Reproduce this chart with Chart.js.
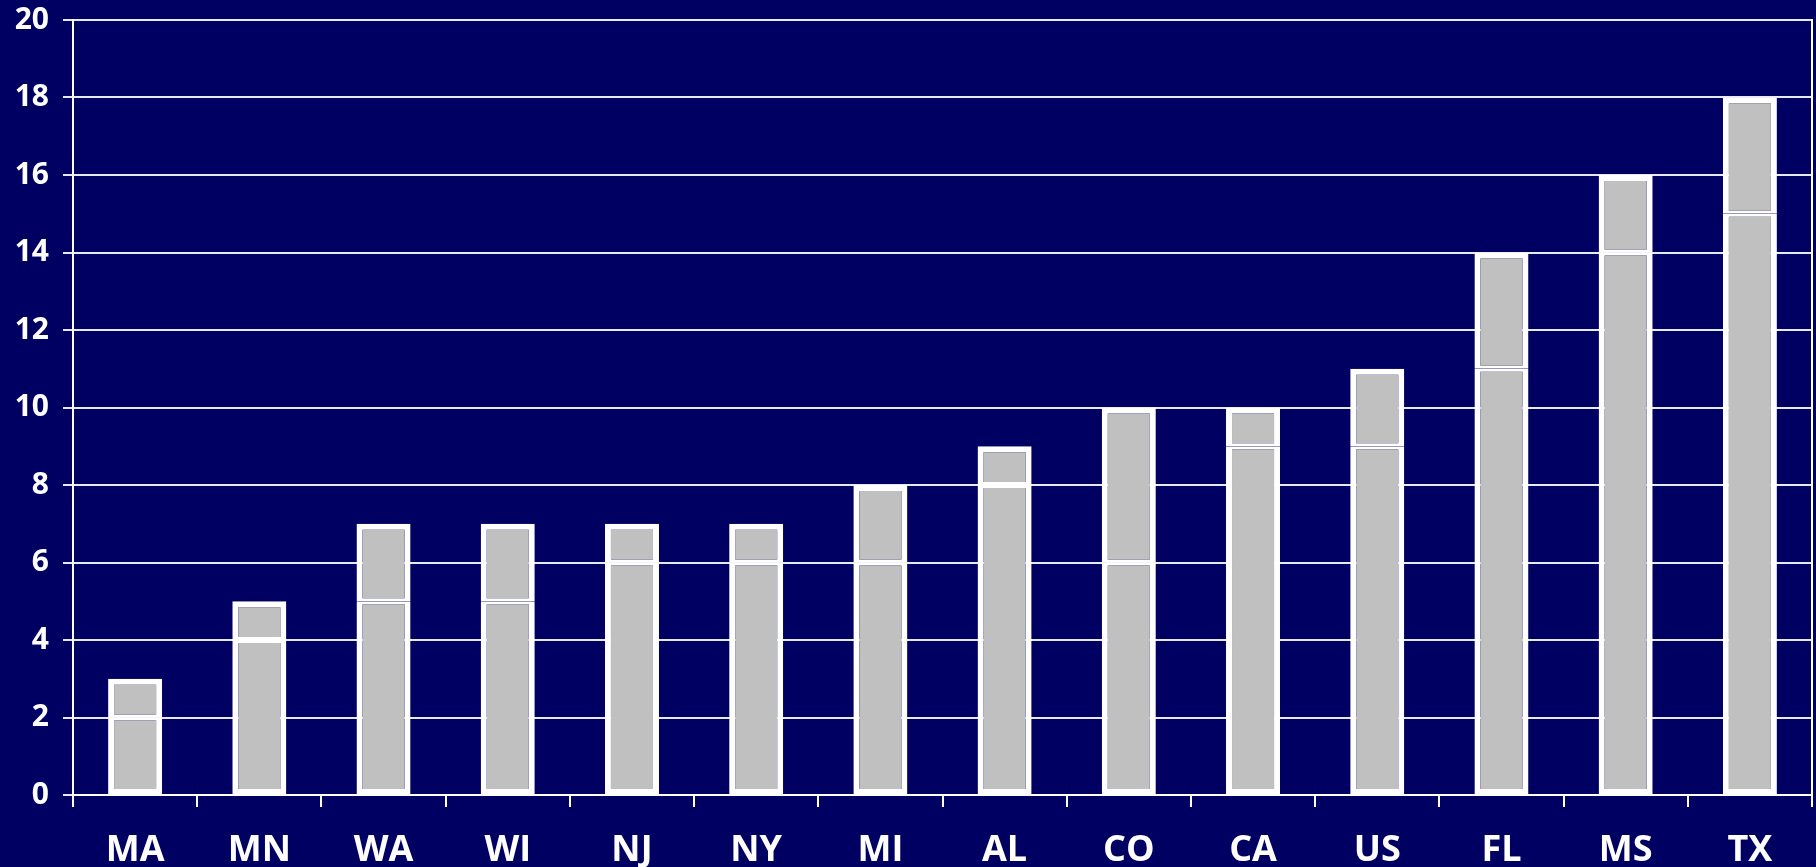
<!DOCTYPE html>
<html>
<head>
<meta charset="utf-8">
<script src="https://cdn.jsdelivr.net/npm/chart.js@4"></script>
<style>
  html, body { margin: 0; padding: 0; background: #000063; }
  #wrap { width: 1816px; height: 867px; }
</style>
</head>
<body>
<div id="wrap"><canvas id="c" width="1816" height="867"></canvas></div>
<script>
const categories = ["MA","MN","WA","WI","NJ","NY","MI","AL","CO","CA","US","FL","MS","TX"];
const lowerValues = [2,4,5,5,6,6,6,8,6,9,9,11,14,15];
const totalValues = [3,5,7,7,7,7,8,9,10,10,11,14,16,18];
const upperValues = totalValues.map((t, i) => t - lowerValues[i]);
const yTicks = [0,2,4,6,8,10,12,14,16,18,20];

const BG = '#000063';
const FONT = '"Open Sans", "DejaVu Sans", sans-serif';

const bgPlugin = {
  id: 'bg',
  beforeDraw(chart) {
    const ctx = chart.ctx;
    ctx.save();
    ctx.fillStyle = BG;
    ctx.fillRect(0, 0, chart.width, chart.height);
    ctx.restore();
  }
};

new Chart(document.getElementById('c'), {
  type: 'bar',
  data: {
    labels: categories,
    datasets: [
      {
        data: lowerValues,
        backgroundColor: '#C0C0C0',
        borderColor: '#FFFFFF',
        borderWidth: { left: 6, right: 6, bottom: 5, top: 3 },
        borderSkipped: false,
        barPercentage: 0.435,
        categoryPercentage: 1
      },
      {
        data: upperValues,
        backgroundColor: '#C0C0C0',
        borderColor: '#FFFFFF',
        borderWidth: { left: 6, right: 6, bottom: 3, top: 6 },
        borderSkipped: false,
        barPercentage: 0.435,
        categoryPercentage: 1
      }
    ]
  },
  options: {
    responsive: false,
    animation: false,
    maintainAspectRatio: false,
    layout: { padding: { top: 20, right: 0, left: 0, bottom: 0 } },
    plugins: { legend: { display: false }, tooltip: { enabled: false } },
    scales: {
      x: {
        stacked: true,
        offset: true,
        grid: {
          offset: true,
          drawOnChartArea: false,
          drawTicks: true,
          tickLength: 12,
          color: '#FFFFFF',
          lineWidth: 2
        },
        border: { display: true, color: '#FFFFFF', width: 2 },
        ticks: {
          color: '#FFFFFF',
          font: { family: FONT, size: 36, weight: 'bold' },
          padding: 22,
          maxRotation: 0,
          autoSkip: false
        },
        afterFit(scale) { scale.height = 72; scale.paddingLeft = 0; scale.paddingRight = 0; }
      },
      y: {
        stacked: true,
        min: 0,
        max: 20,
        afterBuildTicks(scale) { scale.ticks = yTicks.map(v => ({ value: v })); },
        grid: {
          color: '#E8E8F0',
          lineWidth: 2,
          drawTicks: true,
          tickLength: 10
        },
        border: { display: true, color: '#FFFFFF', width: 2 },
        ticks: {
          color: '#FFFFFF',
          font: { family: FONT, size: 30, weight: 'bold' },
          padding: 14
        },
        afterFit(scale) { scale.width = 73; scale.paddingTop = 0; scale.paddingBottom = 0; }
      },
      y2: {
        position: 'right',
        min: 0,
        max: 20,
        grid: { display: false, drawOnChartArea: false, drawTicks: false },
        border: { display: true, color: '#FFFFFF', width: 2 },
        ticks: { display: false },
        afterFit(scale) { scale.width = 4; scale.paddingTop = 0; scale.paddingBottom = 0; }
      }
    }
  },
  plugins: [bgPlugin]
});
</script>
</body>
</html>
